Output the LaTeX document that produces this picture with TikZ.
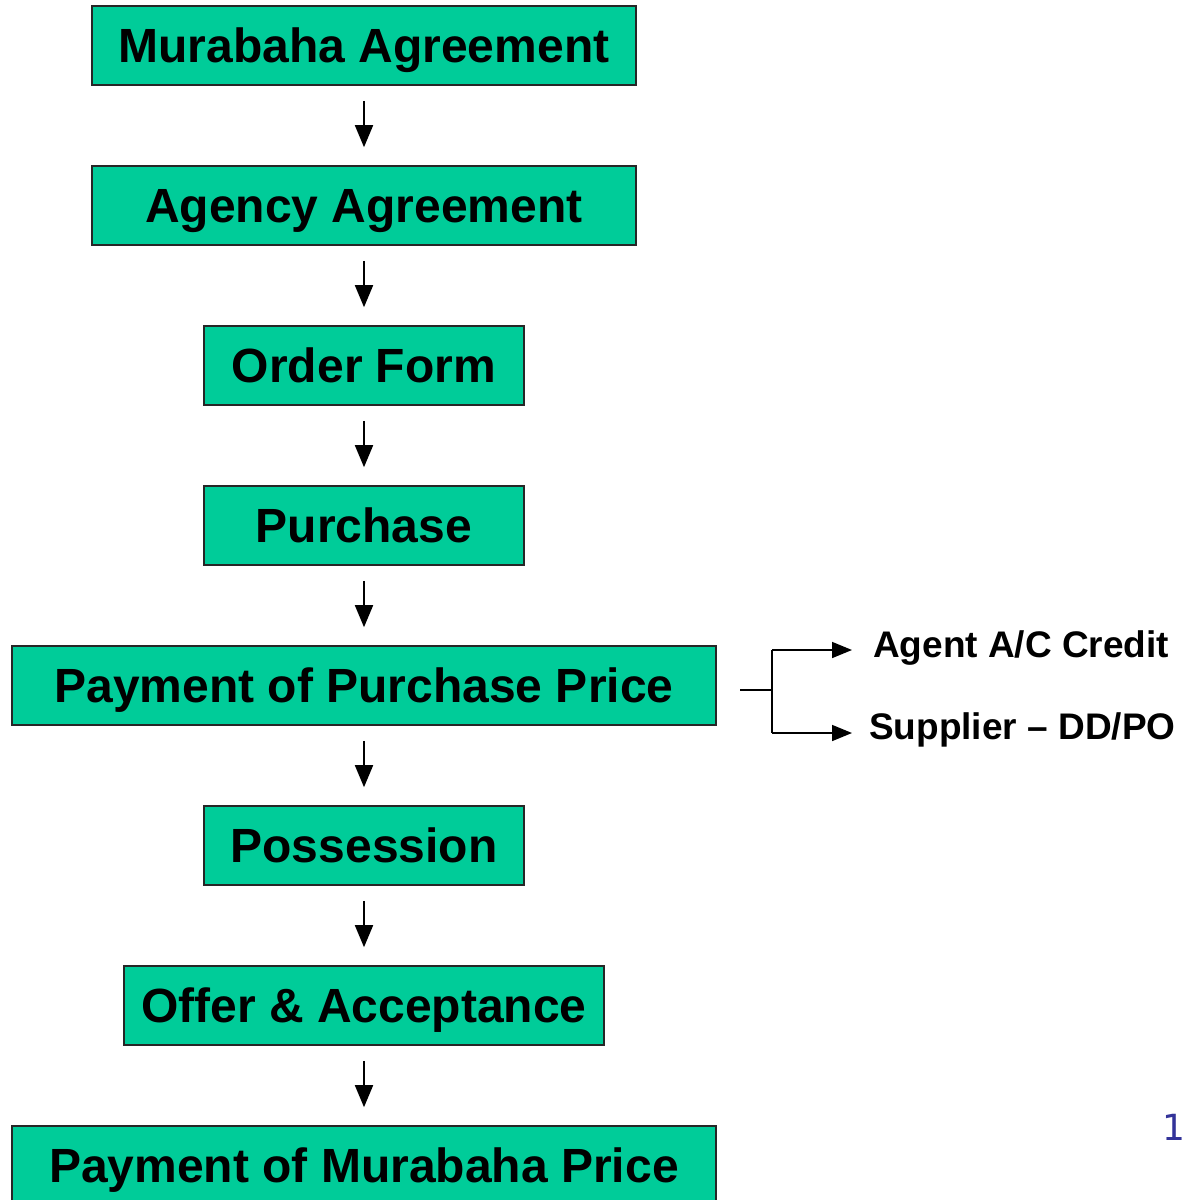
\documentclass[tikz,border=0pt]{standalone}
\usepackage{fontspec}
\setmainfont{Liberation Sans}
\newfontfamily\numfont{DejaVu Sans}
\usetikzlibrary{arrows.meta}
\definecolor{boxgreen}{HTML}{00CC99}
\definecolor{numblue}{HTML}{333399}
\begin{document}
\begin{tikzpicture}[x=1pt,y=-1pt,
  stepbox/.style={draw=black!85,line width=1.6pt,fill=boxgreen,inner sep=0pt,
    minimum height=79pt,text height=34pt,text depth=0pt,
    font=\fontsize{48}{50}\selectfont\bfseries},
  flow/.style={line width=1.8pt,-{Triangle[length=22pt,width=18pt]}},
  branch/.style={line width=1.6pt},
  brarrow/.style={line width=1.6pt,-{Triangle[length=20pt,width=16pt]}},
  sidelabel/.style={anchor=west,inner sep=0pt,text height=25pt,text depth=0pt,
    font=\fontsize{37}{40}\selectfont\bfseries}]
\clip (0,0) rectangle (1186,1200);
\node[stepbox,minimum width=544pt] (b1) at (364,45.5) {Murabaha Agreement};
\node[stepbox,minimum width=544pt] (b2) at (364,205.5) {Agency Agreement};
\node[stepbox,minimum width=320pt] (b3) at (364,365.5) {Order Form};
\node[stepbox,minimum width=320pt] (b4) at (364,525.5) {Purchase};
\node[stepbox,minimum width=704pt] (b5) at (364,685.5) {Payment of Purchase Price};
\node[stepbox,minimum width=320pt] (b6) at (364,845.5) {Possession};
\node[stepbox,minimum width=480pt] (b7) at (364,1005.5) {Offer \& Acceptance};
\node[stepbox,minimum width=704pt] (b8) at (364,1165.5) {Payment of Murabaha Price};
\foreach \a/\b in {b1/b2,b2/b3,b3/b4,b4/b5,b5/b6,b6/b7,b7/b8}{
  \draw[flow] ([yshift=-15pt]\a.south) -- ([yshift=18pt]\b.north);
}
\node[sidelabel] (l1) at (873,645) {Agent A/C Credit};
\node[sidelabel] (l2) at (869,727) {Supplier – DD/PO};
\coordinate (s0) at (740,690);
\coordinate (s1) at (772,690);
\coordinate (t1) at (772,650);
\coordinate (t2) at (772,733);
\draw[branch] (s0) -- (s1);
\draw[branch] (t1) -- (t2);
\draw[brarrow] (t1) -- (852,650);
\draw[brarrow] (t2) -- (852,733);
\node[text=numblue,font=\numfont\fontsize{36}{40}\selectfont,inner sep=0pt,anchor=base east] (pg) at (1186,1140) {1};
\end{tikzpicture}
\end{document}
